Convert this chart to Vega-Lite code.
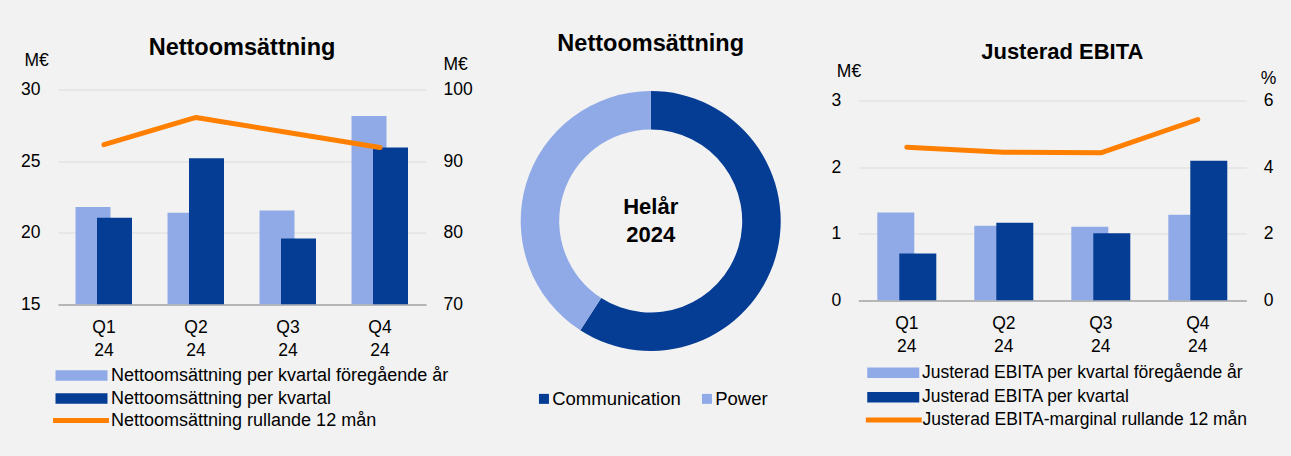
{
  "$schema": "https://vega.github.io/schema/vega-lite/v6.json",
  "background": "#f2f2f2",
  "padding": {"left": 20, "top": 31.5, "right": 30, "bottom": 30},
  "autosize": {"type": "pad"},
  "config": {
    "font": "Liberation Sans",
    "view": {"stroke": null},
    "axis": {"labelFont": "Liberation Sans", "labelFontSize": 17.5, "labelColor": "#000", "titleFont": "Liberation Sans", "titleFontSize": 17.5, "titleFontWeight": "normal", "titleColor": "#000", "ticks": false, "domain": false, "grid": false},
    "legend": {"labelFont": "Liberation Sans", "labelFontSize": 17.5, "labelColor": "#000", "padding": 0, "labelLimit": 600, "titlePadding": 0},
    "title": {"font": "Liberation Sans", "fontSize": 22, "fontWeight": "bold", "color": "#000", "frame": "group", "anchor": "middle"}
  },
  "datasets": {
    "netto": [
      {"q": "Q1 24", "kind": "prev", "serie": "Nettoomsättning per kvartal föregående år", "value": 21.8},
      {"q": "Q2 24", "kind": "prev", "serie": "Nettoomsättning per kvartal föregående år", "value": 21.4},
      {"q": "Q3 24", "kind": "prev", "serie": "Nettoomsättning per kvartal föregående år", "value": 21.55},
      {"q": "Q4 24", "kind": "prev", "serie": "Nettoomsättning per kvartal föregående år", "value": 28.15},
      {"q": "Q1 24", "kind": "cur", "serie": "Nettoomsättning per kvartal", "value": 21.05},
      {"q": "Q2 24", "kind": "cur", "serie": "Nettoomsättning per kvartal", "value": 25.2},
      {"q": "Q3 24", "kind": "cur", "serie": "Nettoomsättning per kvartal", "value": 19.6},
      {"q": "Q4 24", "kind": "cur", "serie": "Nettoomsättning per kvartal", "value": 25.95},
      {"q": "Q1 24", "kind": "roll", "serie": "Nettoomsättning rullande 12 mån", "value": 92.3},
      {"q": "Q2 24", "kind": "roll", "serie": "Nettoomsättning rullande 12 mån", "value": 96.1},
      {"q": "Q3 24", "kind": "roll", "serie": "Nettoomsättning rullande 12 mån", "value": 94.0},
      {"q": "Q4 24", "kind": "roll", "serie": "Nettoomsättning rullande 12 mån", "value": 91.9}
    ],
    "segment": [
      {"segment": "Communication", "share": 59.1},
      {"segment": "Power", "share": 40.9}
    ],
    "ebita": [
      {"q": "Q1 24", "kind": "prev", "serie": "Justerad EBITA per kvartal föregående år", "value": 1.32},
      {"q": "Q2 24", "kind": "prev", "serie": "Justerad EBITA per kvartal föregående år", "value": 1.12},
      {"q": "Q3 24", "kind": "prev", "serie": "Justerad EBITA per kvartal föregående år", "value": 1.105},
      {"q": "Q4 24", "kind": "prev", "serie": "Justerad EBITA per kvartal föregående år", "value": 1.285},
      {"q": "Q1 24", "kind": "cur", "serie": "Justerad EBITA per kvartal", "value": 0.705},
      {"q": "Q2 24", "kind": "cur", "serie": "Justerad EBITA per kvartal", "value": 1.165},
      {"q": "Q3 24", "kind": "cur", "serie": "Justerad EBITA per kvartal", "value": 1.01},
      {"q": "Q4 24", "kind": "cur", "serie": "Justerad EBITA per kvartal", "value": 2.095},
      {"q": "Q1 24", "kind": "roll", "serie": "Justerad EBITA-marginal rullande 12 mån", "value": 4.6},
      {"q": "Q2 24", "kind": "roll", "serie": "Justerad EBITA-marginal rullande 12 mån", "value": 4.45},
      {"q": "Q3 24", "kind": "roll", "serie": "Justerad EBITA-marginal rullande 12 mån", "value": 4.43},
      {"q": "Q4 24", "kind": "roll", "serie": "Justerad EBITA-marginal rullande 12 mån", "value": 5.43}
    ]
  },
  "bounds": "flush",
  "spacing": 94.7,
  "resolve": {"scale": {"color": "independent", "stroke": "independent"}, "legend": {"color": "independent", "stroke": "independent"}},
  "hconcat": [
    {
      "width": 368,
      "height": 215,
      "title": {"text": "Nettoomsättning", "offset": -8, "fontSize": 23.5},
      "data": {"name": "netto"},
      "encoding": {
        "x": {"field": "q", "type": "ordinal", "scale": {"paddingInner": 0, "paddingOuter": 0},
          "axis": {"title": null, "labelAngle": 0, "labelPadding": 14, "labelBaseline": "top", "labelLineHeight": 23, "labelExpr": "split(datum.label, ' ')", "domain": true, "domainColor": "#a6a6a6", "domainWidth": 1.5}}
      },
      "layer": [
        {
          "layer": [
            {
              "transform": [{"filter": "datum.kind == 'prev'"}],
              "mark": {"type": "bar", "width": 35, "xOffset": -11, "clip": true},
              "encoding": {
                "y": {"field": "value", "type": "quantitative", "stack": null, "scale": {"domain": [15, 30], "nice": false, "zero": false},
                  "axis": {"orient": "left", "values": [15, 20, 25, 30], "grid": true, "gridColor": "#dcdcdc", "labelPadding": 18, "title": "M€", "titleAngle": 0, "titleAlign": "left", "titleBaseline": "middle", "titleX": -34, "titleY": -29}},
                "color": {"field": "serie", "type": "nominal",
                  "scale": {"domain": ["Nettoomsättning per kvartal föregående år", "Nettoomsättning per kvartal"], "range": ["#8faae6", "#053c94"]},
                  "legend": {"orient": "none", "legendX": 14.5, "legendY": 277, "title": null, "direction": "vertical", "symbolType": "M-4,-0.8H4V0.8H-4Z", "symbolSize": 169, "symbolStrokeWidth": 0, "labelOffset": 20.5, "rowPadding": 5, "labelFontSize": 18}}
              }
            },
            {
              "transform": [{"filter": "datum.kind == 'cur'"}],
              "mark": {"type": "bar", "width": 35, "xOffset": 10.5, "clip": true},
              "encoding": {
                "y": {"field": "value", "type": "quantitative", "stack": null},
                "color": {"field": "serie", "type": "nominal"}
              }
            }
          ]
        },
        {
          "transform": [{"filter": "datum.kind == 'roll'"}],
          "mark": {"type": "line", "strokeWidth": 5, "strokeCap": "round", "strokeJoin": "round"},
          "encoding": {
            "y": {"field": "value", "type": "quantitative", "scale": {"domain": [70, 100], "nice": false, "zero": false},
              "axis": {"orient": "right", "values": [70, 80, 90, 100], "labelPadding": 17, "title": "M€", "titleAngle": 0, "titleAlign": "left", "titleBaseline": "middle", "titleX": 17, "titleY": -25}},
            "stroke": {"field": "serie", "type": "nominal", "scale": {"range": ["#ff8000"]},
              "legend": {"orient": "none", "legendX": 14, "legendY": 322, "title": null, "symbolType": "M-4.3,0H4.3", "symbolSize": 169, "symbolStrokeWidth": 5, "labelOffset": 21, "labelFontSize": 18}}
          }
        }
      ],
      "resolve": {"scale": {"y": "independent"}}
    },
    {
      "bounds": "flush",
      "spacing": 77.6,
      "resolve": {"scale": {"color": "independent", "stroke": "independent"}, "legend": {"color": "independent", "stroke": "independent"}},
      "hconcat": [
        {
          "width": 260,
          "height": 263,
          "title": {"text": "Nettoomsättning", "offset": 33.7, "fontSize": 23.5},
          "layer": [
            {
              "data": {"name": "segment"},
              "mark": {"type": "arc", "radius": 130, "radius2": 91.5},
              "encoding": {
                "theta": {"field": "share", "type": "quantitative"},
                "order": {"field": "segment", "type": "ordinal", "sort": "ascending"},
                "color": {"field": "segment", "type": "nominal", "scale": {"domain": ["Communication", "Power"], "range": ["#053c94", "#8faae6"]},
                  "legend": {"orient": "none", "direction": "horizontal", "legendX": 14, "legendY": 300, "title": null, "symbolType": "square", "symbolSize": 100, "symbolStrokeWidth": 0, "labelOffset": -1, "columnPadding": 16, "labelFontSize": 18.5}}
              }
            },
            {
              "data": {"values": [{}]},
              "mark": {"type": "text", "text": ["Helår", "2024"], "fontSize": 22, "fontWeight": "bold", "lineHeight": 28, "baseline": "middle", "align": "center", "dy": -14, "color": "#000"},
              "encoding": {}
            }
          ]
        },
        {
          "width": 388,
          "height": 211,
          "title": {"text": "Justerad EBITA", "offset": -1, "dx": 10},
          "data": {"name": "ebita"},
          "encoding": {
            "x": {"field": "q", "type": "ordinal", "scale": {"paddingInner": 0, "paddingOuter": 0},
              "axis": {"title": null, "labelAngle": 0, "labelPadding": 14, "labelBaseline": "top", "labelLineHeight": 23, "labelExpr": "split(datum.label, ' ')", "domain": true, "domainColor": "#a6a6a6", "domainWidth": 1.5}}
          },
          "layer": [
            {
              "layer": [
                {
                  "transform": [{"filter": "datum.kind == 'prev'"}],
                  "mark": {"type": "bar", "width": 37, "xOffset": -11, "clip": true},
                  "encoding": {
                    "y": {"field": "value", "type": "quantitative", "stack": null, "scale": {"domain": [0, 3.165], "nice": false, "zero": false},
                      "axis": {"orient": "left", "values": [0, 1, 2, 3], "format": "d", "grid": true, "gridColor": "#dcdcdc", "labelPadding": 17.5, "title": "M€", "titleAngle": 0, "titleAlign": "left", "titleBaseline": "middle", "titleX": -22, "titleY": -18}},
                    "color": {"field": "serie", "type": "nominal",
                      "scale": {"domain": ["Justerad EBITA per kvartal föregående år", "Justerad EBITA per kvartal"], "range": ["#8faae6", "#053c94"]},
                      "legend": {"orient": "none", "legendX": 26.2, "legendY": 274.5, "title": null, "direction": "vertical", "symbolType": "M-4,-0.8H4V0.8H-4Z", "symbolSize": 169, "symbolStrokeWidth": 0, "labelOffset": 20, "rowPadding": 5.5}}
                  }
                },
                {
                  "transform": [{"filter": "datum.kind == 'cur'"}],
                  "mark": {"type": "bar", "width": 37, "xOffset": 11, "clip": true},
                  "encoding": {
                    "y": {"field": "value", "type": "quantitative", "stack": null},
                    "color": {"field": "serie", "type": "nominal"}
                  }
                }
              ]
            },
            {
              "transform": [{"filter": "datum.kind == 'roll'"}],
              "mark": {"type": "line", "strokeWidth": 5, "strokeCap": "round", "strokeJoin": "round"},
              "encoding": {
                "y": {"field": "value", "type": "quantitative", "scale": {"domain": [0, 6.33], "nice": false, "zero": false},
                  "axis": {"orient": "right", "values": [0, 2, 4, 6], "format": "d", "labelPadding": 17, "title": "%", "titleAngle": 0, "titleAlign": "left", "titleBaseline": "middle", "titleX": 14, "titleY": -11}},
                "stroke": {"field": "serie", "type": "nominal", "scale": {"range": ["#ff8000"]},
                  "legend": {"orient": "none", "legendX": 26.5, "legendY": 321.5, "title": null, "symbolType": "M-4.3,0H4.3", "symbolSize": 169, "symbolStrokeWidth": 5, "labelOffset": 19.7}}
              }
            }
          ],
          "resolve": {"scale": {"y": "independent"}}
        }
      ]
    }
  ]
}
